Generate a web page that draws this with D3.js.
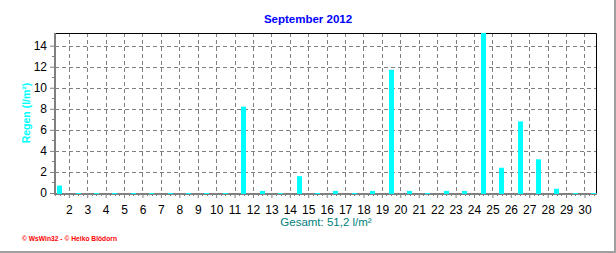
<!DOCTYPE html>
<html>
<head>
<meta charset="utf-8">
<script src="https://cdn.jsdelivr.net/npm/d3@7"></script>
<style>
  html, body { margin: 0; padding: 0; background: #fff; }
  svg { display: block; font-family: Arial, "Liberation Sans", sans-serif; }
</style>
</head>
<body>
<div id="chart"></div>
<script>
// 数据：每天的降雨量 (l/m²)
const days = d3.range(1, 31);
const rain = [0.7, 0, 0, 0, 0, 0, 0, 0, 0, 0,
              8.2, 0.2, 0, 1.6, 0, 0.2, 0, 0.2, 11.7, 0.2,
              0, 0.2, 0.2, 15.2, 2.4, 6.8, 3.2, 0.4, 0, 0];
const yTicks = [0, 2, 4, 6, 8, 10, 12, 14];
const xTicks = d3.range(2, 31);
const title = "September 2012";
const total = "Gesamt: 51,2 l/m²";

const W = 616, H = 253;
const margin = {top: 33, right: 19, bottom: 60, left: 55},
    width = W - margin.left - margin.right,
    height = H - margin.top - margin.bottom;

const svg = d3.select("#chart").append("svg")
    .attr("width", W).attr("height", H);

const g = svg.append("g")
    .attr("transform", `translate(${margin.left}, ${margin.top})`);

// 比例尺
const x = d3.scaleLinear().domain([1.25, 30.68]).range([0, width]);
const y = d3.scaleLinear().domain([0, 15.2]).range([height, 0]);

// 网格线
g.append("g").selectAll("line").data(yTicks.filter(d => d > 0)).enter().append("line")
    .attr("x1", 0).attr("x2", width)
    .attr("y1", d => Math.round(y(d)) + 0.5).attr("y2", d => Math.round(y(d)) + 0.5)
    .attr("stroke", "#808080").attr("stroke-dasharray", "4,3");
g.append("g").selectAll("line").data(xTicks).enter().append("line")
    .attr("y1", 0).attr("y2", height)
    .attr("x1", d => Math.round(x(d)) + 0.5).attr("x2", d => Math.round(x(d)) + 0.5)
    .attr("stroke", "#808080").attr("stroke-dasharray", "4,3");

// 上边和右边框
g.append("path")
    .attr("d", `M0,0.5H${width - 0.5}V${height}`)
    .attr("fill", "none").attr("stroke", "#000");

// Y轴
const yAxis = g.append("g");
yAxis.call(d3.axisLeft(y).tickValues(yTicks).tickSize(5).tickPadding(3).tickFormat(d3.format("d")));
yAxis.select(".domain").remove();
yAxis.selectAll(".tick line").attr("stroke", "#808080");
yAxis.selectAll("text").attr("font-size", "12px").attr("fill", "#000")
    .attr("font-family", "Arial, 'Liberation Sans', sans-serif");
yAxis.selectAll(".minor").data(d3.range(1, 15, 2)).enter().append("line")
    .attr("x1", -3).attr("x2", 0)
    .attr("y1", d => Math.round(y(d)) + 0.5).attr("y2", d => Math.round(y(d)) + 0.5)
    .attr("stroke", "#808080");
yAxis.append("line")
    .attr("x1", 0).attr("x2", 0).attr("y1", 0).attr("y2", height + 2)
    .attr("stroke", "#808080").attr("stroke-width", 2);

// X轴
const xAxis = g.append("g").attr("transform", `translate(0, ${height})`);
xAxis.call(d3.axisBottom(x).tickValues(xTicks).tickSize(5).tickPadding(7).tickFormat(d3.format("d")));
xAxis.select(".domain").remove();
xAxis.selectAll(".tick line").attr("stroke", "#808080");
xAxis.selectAll("text").attr("font-size", "12px").attr("fill", "#000")
    .attr("font-family", "Arial, 'Liberation Sans', sans-serif");
xAxis.selectAll(".minor").data(d3.range(1.25, 30.7, 0.25).filter(d => d % 1 !== 0)).enter().append("line")
    .attr("y1", 0).attr("y2", 3)
    .attr("x1", d => Math.round(x(d)) + 0.5).attr("x2", d => Math.round(x(d)) + 0.5)
    .attr("stroke", "#808080");
xAxis.append("line")
    .attr("x1", -1).attr("x2", width).attr("y1", 1).attr("y2", 1)
    .attr("stroke", "#808080").attr("stroke-width", 2);

// 柱形（画在坐标轴之上，零值也留一像素）
g.selectAll(".bar").data(rain).enter().append("rect")
    .attr("class", "bar")
    .attr("x", (d, i) => Math.round(x(days[i] + 0.5) - 2.5))
    .attr("width", 5)
    .attr("y", d => Math.min(y(d), height))
    .attr("height", d => Math.max(height - y(d), 0) + 1)
    .attr("fill", "#00ffff");

// 标题
svg.append("text")
    .attr("x", 308).attr("y", 23)
    .attr("text-anchor", "middle")
    .attr("font-size", "11.5px").attr("font-weight", "bold")
    .attr("fill", "#0000ff")
    .text(title);

// Y轴标题
svg.append("text")
    .attr("transform", "translate(30, 113) rotate(-90)")
    .attr("text-anchor", "middle")
    .attr("font-size", "10.5px").attr("font-weight", "bold")
    .attr("fill", "#00ffff")
    .text("Regen  (l/m²)");

// 合计
svg.append("text")
    .attr("x", 326).attr("y", 226)
    .attr("text-anchor", "middle")
    .attr("font-size", "11.5px")
    .attr("fill", "#008080")
    .text(total);

// 版权
svg.append("text")
    .attr("x", 22).attr("y", 241)
    .attr("font-size", "7.5px").attr("font-weight", "bold")
    .attr("fill", "#ff0000")
    .attr("textLength", 95).attr("lengthAdjust", "spacingAndGlyphs")
    .text("© WsWin32  -  © Heiko Blödorn");

// 外框（右、下）
svg.append("path")
    .attr("d", `M${W - 1},0V${H - 1}H0`)
    .attr("fill", "none").attr("stroke", "#a0a0a0").attr("stroke-width", 2);
</script>
</body>
</html>
